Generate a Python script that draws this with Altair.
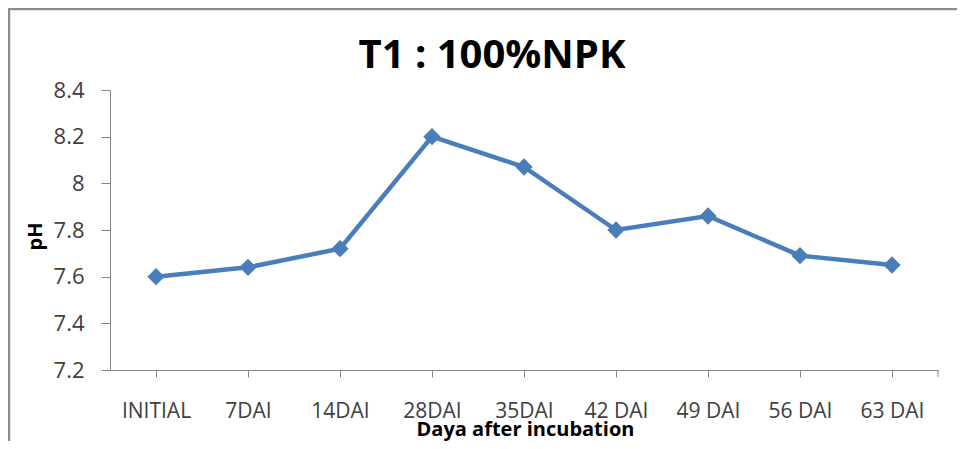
import altair as alt
import pandas as pd

title_text = "T1 : 100%NPK"
categories = ["INITIAL", "7DAI", "14DAI", "28DAI", "35DAI", "42 DAI", "49 DAI", "56 DAI", "63 DAI"]
ph_values = [7.60, 7.64, 7.72, 8.20, 8.07, 7.80, 7.86, 7.69, 7.65]
y_ticks = [7.2, 7.4, 7.6, 7.8, 8.0, 8.2, 8.4]

df = pd.DataFrame({"day": categories, "ph": ph_values})
one = pd.DataFrame({"a": [0]})

W, H = 828, 280
BLUE = "#4A7EBB"
AX = "#868686"
FONT = "Open Sans"

x_enc = alt.X(
    "day:N",
    sort=categories,
    scale=alt.Scale(paddingInner=0, paddingOuter=0),
    axis=alt.Axis(
        title="Daya after incubation",
        labelAngle=0,
        bandPosition=0,
        tickSize=7,
        labelPadding=23,
        labelFont=FONT,
        labelFontSize=21,
        labelColor="#404040",
        domainColor=AX,
        tickColor=AX,
        titleFont=FONT,
        titleFontSize=20,
        titleFontWeight="bold",
        titleColor="#000000",
        titleX=415,
        titleY=65,
        titleBaseline="alphabetic",
        titleAlign="center",
        grid=False,
    ),
)
y_enc = alt.Y(
    "ph:Q",
    scale=alt.Scale(domain=[7.2, 8.4], nice=False, zero=False),
    axis=alt.Axis(
        title="pH",
        values=y_ticks,
        format="~g",
        tickSize=9,
        labelPadding=17,
        labelFont=FONT,
        labelFontSize=22,
        labelColor="#404040",
        domainColor=AX,
        tickColor=AX,
        titleFont=FONT,
        titleFontSize=20,
        titleFontWeight="bold",
        titleColor="#000000",
        titleX=-75,
        titleY=146,
        titleAngle=270,
        titleBaseline="middle",
        titleAlign="center",
        grid=False,
    ),
)

mask = alt.Chart(one).mark_rect(color="white").encode(
    x=alt.value(W - 1), x2=alt.value(W + 3), y=alt.value(-2), y2=alt.value(H - 1)
)
line = alt.Chart(df).mark_line(color=BLUE, strokeWidth=4.5).encode(x=x_enc, y=y_enc)
pts = alt.Chart(df).mark_point(shape="diamond", filled=True, color=BLUE, size=300, opacity=1).encode(
    x=alt.X("day:N", sort=categories), y="ph:Q"
)
end_tick = alt.Chart(one).mark_rule(color=AX, strokeWidth=1).encode(
    x=alt.value(W), y=alt.value(H), y2=alt.value(H + 7)
)
border_left = alt.Chart(one).mark_rule(color="#8C8C8C", strokeWidth=2.5).encode(
    x=alt.value(-101), y=alt.value(-82), y2=alt.value(H + 80)
)
border_top = alt.Chart(one).mark_rule(color="#8C8C8C", strokeWidth=2.5).encode(
    x=alt.value(-102), x2=alt.value(W + 40), y=alt.value(-81)
)
title = alt.Chart(one).mark_text(
    font=FONT, fontSize=40, fontWeight="bold", color="#000000", align="center", baseline="alphabetic"
).encode(x=alt.value(382), y=alt.value(-22), text=alt.value(title_text))

chart = (
    alt.layer(mask, border_left, border_top, line, pts, end_tick, title)
    .properties(
        width=W,
        height=H,
        autosize=alt.AutoSizeParams(type="none"),
        padding={"left": 102, "top": 82, "right": 19, "bottom": 71},
    )
    .configure(
        background="white",
        view=alt.ViewConfig(stroke="transparent", strokeWidth=0),
        style={"cell": {"stroke": "transparent", "strokeWidth": 0}},
    )
)

chart.save("out.html", embed_options={"renderer": "svg", "actions": False})
